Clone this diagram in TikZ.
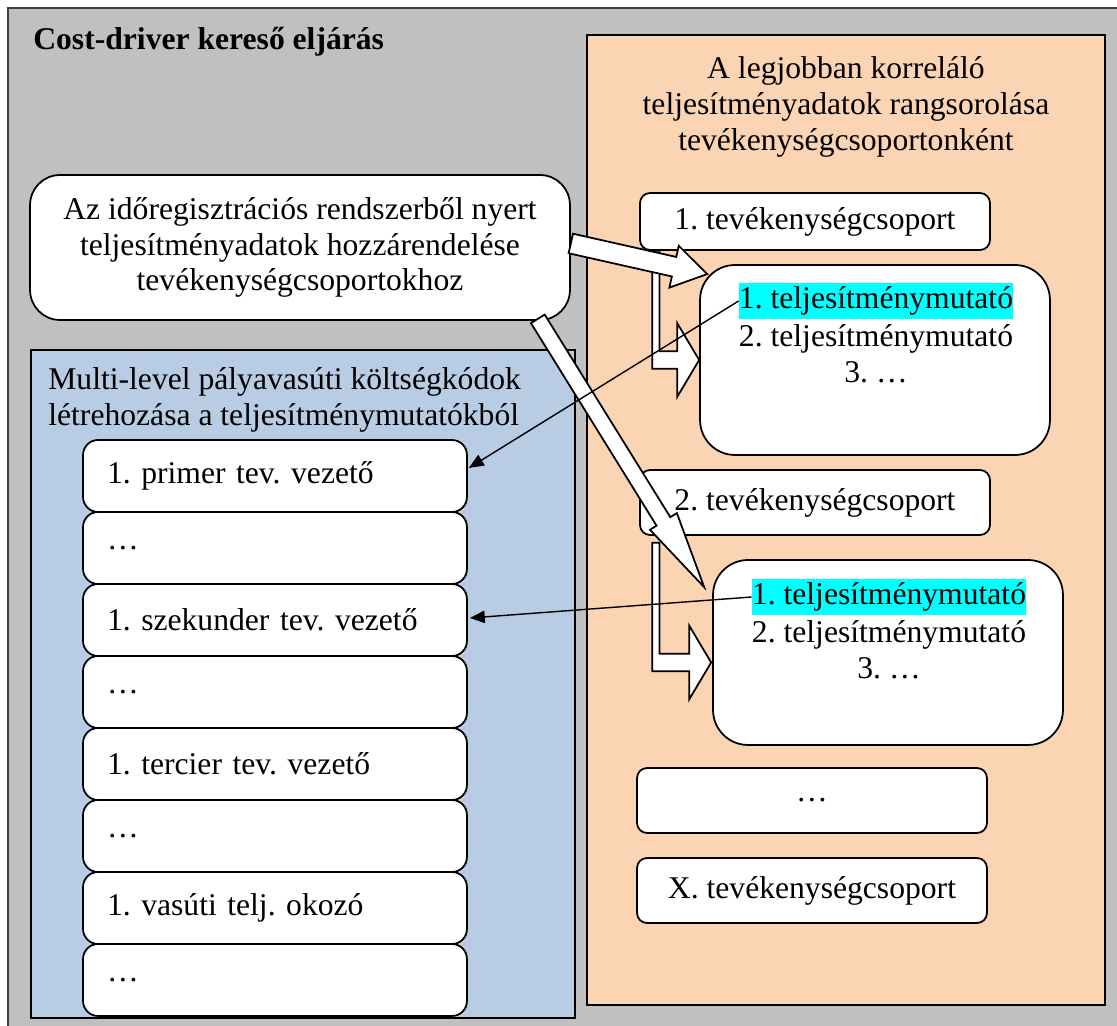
\documentclass[tikz,border=0pt]{standalone}
\usepackage{fontspec}
\setmainfont{Liberation Serif}
\usetikzlibrary{calc,arrows.meta,positioning}

\definecolor{framegray}{RGB}{192,192,192}
\definecolor{rankpeach}{RGB}{251,212,180}
\definecolor{codeblue}{RGB}{184,204,228}
\definecolor{hlcyan}{RGB}{0,255,255}
\frenchspacing

% wide white arrow: tail, tip, half shaft, half head, head length
\newcommand{\blockarrow}[5]{%
  \coordinate (ba-b) at ($(#2)!#5!(#1)$);
  \draw[blockarr] ($(#1)!#3!90:(#2)$) -- ($(ba-b)!#3!90:(#2)$) -- ($(ba-b)!#4!90:(#2)$)
    -- (#2) -- ($(ba-b)!#4!-90:(#2)$) -- ($(ba-b)!#3!-90:(#2)$) -- ($(#1)!#3!-90:(#2)$) -- cycle;
}
% bent white arrow: top of the shaft, tip
\newcommand{\bentarrow}[2]{%
  \draw[blockarr] let \p1=(#1), \p2=(#2) in
    (\x1,\y1) -- (\x1+4.2pt,\y1) -- (\x1+4.2pt,\y2+5pt) -- (\x2-12.5pt,\y2+5pt)
    -- (\x2-12.5pt,\y2+21pt) -- (\x2,\y2) -- (\x2-12.5pt,\y2-21pt)
    -- (\x2-12.5pt,\y2-5pt) -- (\x1,\y2-5pt) -- cycle;
}

\begin{document}
\begin{tikzpicture}[x=0.02cm, y=-0.02cm,
  every node/.style={font=\fontsize{18}{20.3}\selectfont},
  blockarr/.style={draw=black, fill=white, line width=1pt, line join=miter},
  listbox/.style={draw, fill=white, line width=1pt, rounded corners=0.3cm,
    text width=6.72cm, inner xsep=0.48cm, minimum height=1.44cm, align=left},
  grpbox/.style={draw, fill=white, line width=1pt, rounded corners=0.2cm,
    minimum width=7cm, minimum height=1.3cm},
  indbox/.style={draw, fill=white, line width=1pt, rounded corners=0.7cm,
    minimum width=7cm},
  hltext/.style={fill=hlcyan, inner sep=0pt, text height=14.5pt, text depth=5.5pt},
  thinarrow/.style={line width=0.8pt, -{Triangle[length=8.5pt,width=7pt]}}]

\clip (0,0) rectangle (1117,1026);
\draw[draw=black!75, fill=framegray, line width=1.2pt] (8,8) rectangle (1135,1045);

\node[anchor=west, inner sep=0pt, font=\fontsize{18}{20.3}\selectfont\bfseries] (title) at (33,42) {Cost-driver kereső eljárás};

% ranking column
\node[draw, fill=rankpeach, line width=1.3pt, inner sep=0pt, minimum width=10.36cm, minimum height=19.4cm] (rank) at (846,520) {};
\node[align=center, inner sep=0pt] (rankhead) at (846,107) {A legjobban korreláló\\teljesítményadatok rangsorolása\\tevékenységcsoportonként};

% cost codes column
\node[draw, fill=codeblue, line width=1.3pt, inner sep=0pt, minimum width=10.88cm, minimum height=13.36cm] (codes) at (303,684) {};
\node[anchor=west, align=left, inner sep=0pt] (codehead) at (48,400) {Multi-level pályavasúti költségkódok\\létrehozása a teljesítménymutatókból};

\node[listbox] (b1) at (275,476) {1. primer tev. vezető};
\node[listbox] (b2) at (275,548) {…};
\node[listbox] (b3) at (275,620) {1. szekunder tev. vezető};
\node[listbox] (b4) at (275,692) {…};
\node[listbox] (b5) at (275,764) {1. tercier tev. vezető};
\node[listbox] (b6) at (275,836) {…};
\node[listbox] (b7) at (275,908) {1. vasúti telj. okozó};
\node[listbox] (b8) at (275,980) {…};

% input
\node[draw, fill=white, line width=1pt, rounded corners=0.6cm, align=center, minimum width=10.8cm, minimum height=2.9cm] (inp) at (300,247.5) {Az időregisztrációs rendszerből nyert\\teljesítményadatok hozzárendelése\\tevékenységcsoportokhoz};

% groups and indicators
\node[grpbox, minimum height=1.14cm] (grp1) at (815,221.5) {1. tevékenységcsoport};
\node[indbox, minimum height=3.8cm] (ind1) at (875,360) {};
\node[hltext] (hl1) at (876,301) {1. teljesítménymutató};
\node[align=center, inner sep=0pt, below=3pt of hl1] (rest1) {2. teljesítménymutató\\3. …};

\node[grpbox] (grp2) at (815,502.5) {2. tevékenységcsoport};
\node[indbox, minimum height=3.7cm] (ind2) at (888,652.5) {};
\node[hltext] (hl2) at (889,597) {1. teljesítménymutató};
\node[align=center, inner sep=0pt, below=3pt of hl2] (rest2) {2. teljesítménymutató\\3. …};

\node[grpbox] (grp3) at (812,800.5) {…};
\node[grpbox] (grpx) at (812,890.5) {X. tevékenységcsoport};

% white arrows
\bentarrow{$(grp1.south west)+(13,0)$}{ind1.west}
\bentarrow{$(grp2.south west)+(13,7)$}{$(ind2.west)+(-1,10)$}

\coordinate (t1) at ($(inp.east)+(0,-4)$);
\coordinate (h1) at ($(ind1.north west)+(8,10)$);
\blockarrow{t1}{h1}{5.7pt}{12.2pt}{19.3pt}
\coordinate (t2) at ($(inp.south east)+(-33,-2)$);
\coordinate (h2) at ($(ind2.north west)+(-8,28)$);
\blockarrow{t2}{h2}{4.6pt}{9pt}{44pt}

% links to the cost codes
\draw[thinarrow] (hl1.west) -- ($(b1.east)+(1,-8)$);
\draw[thinarrow] (hl2.west) -- ($(b3.east)+(2,-2)$);

\end{tikzpicture}
\end{document}
